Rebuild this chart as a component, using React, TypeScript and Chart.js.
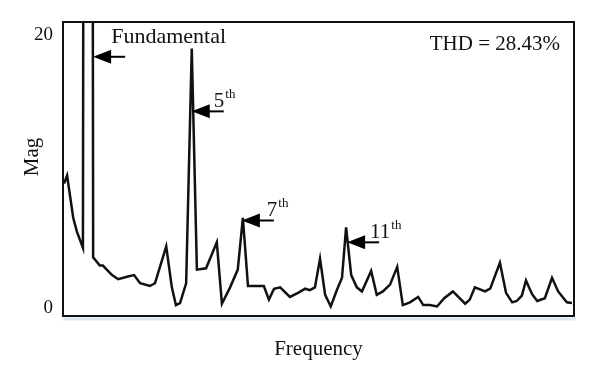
import React, { useEffect, useRef } from "react";
import { Chart, registerables } from "chart.js";

Chart.register(...registerables);

// ---- data ----
const frequency = [
  0.2, 0.8, 2.0, 2.7, 3.9, 4.1, 5.7, 5.9, 7.2, 7.8, 9.6, 10.8, 12.7, 13.9, 15.1, 17.0, 18.0, 20.2, 21.3, 22.1,
  22.9, 24.1, 25.2, 26.2, 28.0, 30.1, 31.1, 32.7, 34.2, 35.2, 36.2, 38.2, 39.3, 40.3, 41.3, 42.5, 44.4, 46.0,
  47.4, 48.3, 49.3, 50.3, 51.3, 52.4, 53.6, 54.6, 55.4, 56.4, 57.5, 58.5, 60.3, 61.4, 62.6, 64.0, 65.4, 66.5,
  67.9, 69.5, 70.5, 71.8, 73.2, 74.6, 76.3, 78.7, 79.6, 80.6, 82.6, 83.6, 85.5, 86.7, 87.9, 88.8, 89.8, 90.6,
  91.8, 92.8, 94.3, 95.7, 96.9, 98.6, 99.6,
];
const magnitude = [
  9.1, 9.7, 6.6, 5.6, 4.4, 60, 60, 3.7, 3.1, 3.1, 2.4, 2.1, 2.3, 2.4, 1.8, 1.6, 1.8, 4.5, 1.5, 0.2,
  0.35, 1.8, 19.0, 2.8, 2.9, 4.8, 0.3, 1.5, 2.8, 6.6, 1.6, 1.6, 1.6, 0.6, 1.4, 1.5, 0.8, 1.1,
  1.4, 1.3, 1.5, 3.6, 0.95, 0.1, 1.3, 2.2, 5.9, 2.4, 1.5, 1.2, 2.7, 0.95, 1.2, 1.7, 3.0, 0.2,
  0.4, 0.8, 0.2, 0.2, 0.1, 0.7, 1.2, 0.3, 0.6, 1.5, 1.2, 1.4, 3.3, 1.1, 0.4, 0.5, 0.9, 2.0,
  1.0, 0.5, 0.7, 2.2, 1.2, 0.4, 0.35,
];
const yTickValues = [0, 20];
const xAxisTitle = "Frequency";
const yAxisTitle = "Mag";
const thdLabel = "THD = 28.43%";
const harmonicLabels = ["Fundamental", "5", "7", "11"];
const harmonicSuperscripts = ["", "th", "th", "th"];
const harmonicFreq = [5.9, 25.2, 35.0, 55.6];
const harmonicMag = [18.4, 14.4, 6.4, 4.8];

// ---- layout (pixel offsets of labels relative to arrow tips) ----
const labelLayout = [
  { dx: 18, dy: -14, size: 22 },
  { dx: 22, dy: -4, size: 21 },
  { dx: 25, dy: -5, size: 21 },
  { dx: 23, dy: -4, size: 21 },
];
const SERIF = "'Liberation Serif', 'DejaVu Serif', serif";
const INK = "#111";

const annotationPlugin = {
  id: "annotations",
  afterDraw(chart: any) {
    const { ctx, chartArea, scales } = chart;
    ctx.save();
    // frame
    ctx.strokeStyle = "#dfe6ec";
    ctx.lineWidth = 3;
    ctx.beginPath();
    ctx.moveTo(chartArea.left, chartArea.bottom + 3);
    ctx.lineTo(chartArea.right + 2, chartArea.bottom + 3);
    ctx.stroke();
    ctx.strokeStyle = INK;
    ctx.lineWidth = 2;
    ctx.strokeRect(chartArea.left, chartArea.top, chartArea.right - chartArea.left, chartArea.bottom - chartArea.top);

    // harmonic arrows + labels
    harmonicFreq.forEach((f, i) => {
      const tx = scales.x.getPixelForValue(f);
      const ty = scales.y.getPixelForValue(harmonicMag[i]);
      ctx.fillStyle = "#000";
      ctx.beginPath();
      ctx.moveTo(tx, ty);
      ctx.lineTo(tx + 18, ty - 7);
      ctx.lineTo(tx + 18, ty + 7);
      ctx.closePath();
      ctx.fill();
      ctx.strokeStyle = "#000";
      ctx.lineWidth = 2;
      ctx.beginPath();
      ctx.moveTo(tx + 16, ty);
      ctx.lineTo(tx + 32, ty);
      ctx.stroke();

      const lay = labelLayout[i];
      ctx.fillStyle = INK;
      ctx.textAlign = "left";
      ctx.textBaseline = "alphabetic";
      ctx.font = `${lay.size}px ${SERIF}`;
      const lx = tx + lay.dx;
      const ly = ty + lay.dy;
      ctx.fillText(harmonicLabels[i], lx, ly);
      if (harmonicSuperscripts[i]) {
        const w = ctx.measureText(harmonicLabels[i]).width;
        ctx.font = `13px ${SERIF}`;
        ctx.fillText(harmonicSuperscripts[i], lx + w + 1, ly - 9);
      }
    });

    // THD
    ctx.font = `21px ${SERIF}`;
    ctx.fillStyle = INK;
    ctx.textAlign = "right";
    ctx.textBaseline = "alphabetic";
    ctx.fillText(thdLabel, chartArea.right - 14, chartArea.top + 28);

    // y title
    ctx.save();
    ctx.translate(32, 157);
    ctx.rotate(-Math.PI / 2);
    ctx.textAlign = "center";
    ctx.textBaseline = "middle";
    ctx.font = `21px ${SERIF}`;
    ctx.fillText(yAxisTitle, 0, 0);
    ctx.restore();

    ctx.restore();
  },
};

export default function App() {
  const canvasRef = useRef<HTMLCanvasElement | null>(null);

  useEffect(() => {
    document.body.style.margin = "0";
    const canvas = canvasRef.current;
    if (!canvas) return;
    const chart = new Chart(canvas, {
      type: "line",
      data: {
        datasets: [
          {
            data: frequency.map((f, i) => ({ x: f, y: magnitude[i] })),
            borderColor: INK,
            borderWidth: 2.5,
            pointRadius: 0,
            tension: 0,
            fill: false,
          },
        ],
      },
      options: {
        responsive: false,
        animation: false,
        devicePixelRatio: 1,
        layout: { padding: { top: 22, right: 26, left: 0, bottom: 0 } },
        plugins: { legend: { display: false }, tooltip: { enabled: false } },
        scales: {
          x: {
            type: "linear",
            min: 0,
            max: 100,
            grid: { display: false, drawTicks: false },
            border: { display: false },
            ticks: { display: false },
            title: {
              display: true,
              text: xAxisTitle,
              color: INK,
              font: { family: SERIF, size: 21 },
              padding: { top: 0, bottom: 22 },
            },
            afterFit: (s: any) => {
              s.height = 68;
            },
          },
          y: {
            type: "linear",
            min: -0.6,
            max: 20.95,
            grid: { display: false, drawTicks: false },
            border: { display: false },
            ticks: {
              color: INK,
              font: { family: SERIF, size: 19 },
              padding: 10,
            },
            afterBuildTicks: (s: any) => {
              s.ticks = yTickValues.map((v) => ({ value: v }));
            },
            afterFit: (s: any) => {
              s.width = 63;
            },
          },
        },
      },
      plugins: [annotationPlugin],
    });
    return () => chart.destroy();
  }, []);

  return (
    <div style={{ width: 600, height: 384, background: "#fff" }}>
      <canvas ref={canvasRef} width={600} height={384} />
    </div>
  );
}
